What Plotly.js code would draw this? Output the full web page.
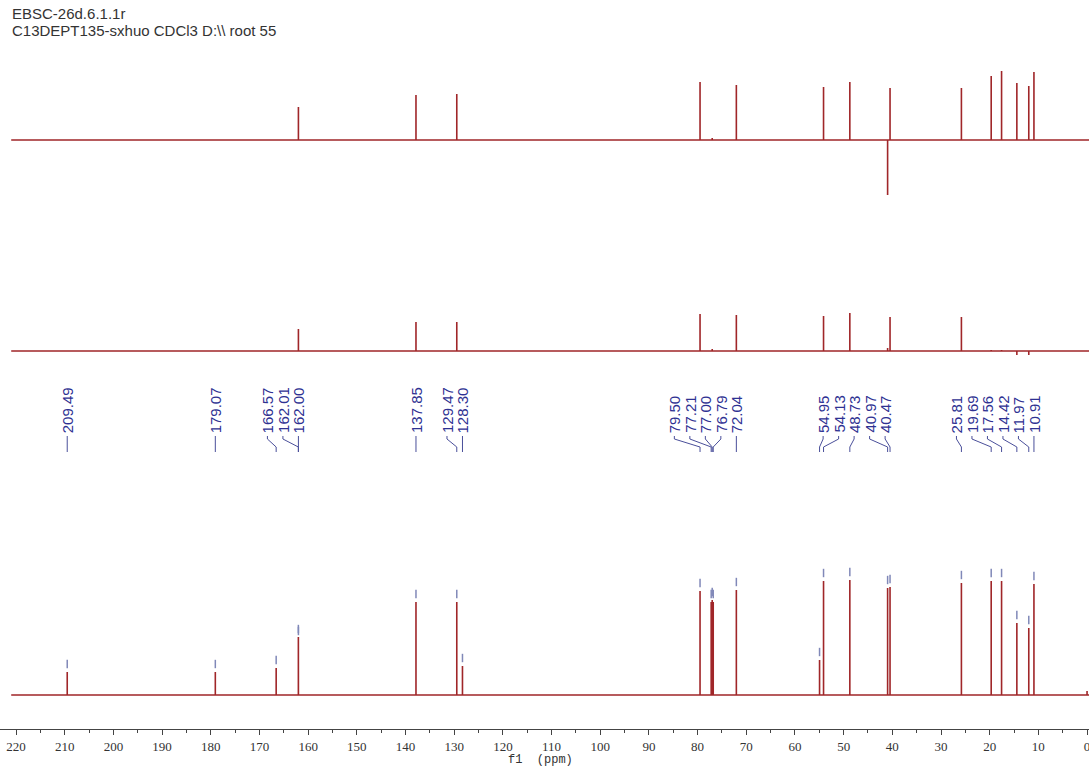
<!DOCTYPE html>
<html><head><meta charset="utf-8">
<script src="https://cdn.plot.ly/plotly-3.0.1.min.js"></script>
<style>html,body{margin:0;padding:0;background:#fff}#chart{width:1089px;height:767px}</style>
</head><body><div id="chart"></div>
<script>
// ---------- data ----------
const titleLines = ["EBSC-26d.6.1.1r", "C13DEPT135-sxhuo CDCl3 D:\\\\ root 55"];
const axisTitle = "f1  (ppm)";

// 13C spectrum (bottom)
const c13Shifts  = [209.49,179.07,166.57,162.01,162.00,137.85,129.47,128.30,79.50,77.21,77.00,76.79,72.04,54.95,54.13,48.73,40.97,40.47,25.81,19.69,17.56,14.42,11.97,10.91];
const c13Heights = [23,23,27,58,56,93,93,29,104,93,95,93,105,35,114,115,107,108,112,114,114,72,67,111];
// unlabelled small signal (TMS)
const c13ExtraShifts  = [0.00];
const c13ExtraHeights = [4];

// DEPT-135 (top)
const dept135Shifts  = [162.00,137.85,129.47,79.50,77.00,72.04,54.13,48.73,40.97,40.47,25.81,19.69,17.56,14.42,11.97,10.91];
const dept135Heights = [33,45,46,58,2,55,53,58,-55,52,52,64,69,57,54,68];

// DEPT-90 (middle)
const dept90Shifts  = [162.00,137.85,129.47,79.50,77.00,72.04,54.13,48.73,40.97,40.47,25.81,19.69,17.56,14.42,11.97];
const dept90Heights = [22,29,29,37,2,36,35,38,3,34,34,1,1,-4,-4];

// peak label groups (multiplet groupings)
const labelGroups = [[209.49],[179.07],[166.57,162.01,162.00],[137.85],[129.47,128.30],
  [79.50,77.21,77.00,76.79,72.04],[54.95,54.13,48.73,40.97,40.47],[25.81,19.69,17.56,14.42,11.97,10.91]];

// ---------- construction ----------
const X_RANGE = [223.3, -0.4];
const SPEC_START = 221.0, SPEC_END = -0.5;
const W = 1089, PLOT_H = 729;
const pxPerPpm = W / (X_RANGE[0] - X_RANGE[1]);
const labelSpacing = 15.5 / pxPerPpm;
const paperY = py => (PLOT_H - py) / PLOT_H;

function sticks(shifts, heights) {
  const idx = shifts.map((s, i) => i).sort((a, b) => shifts[b] - shifts[a]);
  const xs = [SPEC_START], ys = [0];
  idx.forEach(i => { xs.push(shifts[i], shifts[i], shifts[i]); ys.push(0, heights[i], 0); });
  xs.push(SPEC_END); ys.push(0);
  return {xs, ys};
}

const lineColor = '#a02629';
const c13 = sticks(c13Shifts.concat(c13ExtraShifts), c13Heights.concat(c13ExtraHeights));
const d135 = sticks(dept135Shifts, dept135Heights);
const d90 = sticks(dept90Shifts, dept90Heights);

const traces = [
  {x: c13.xs, y: c13.ys, xaxis: 'x', yaxis: 'y', mode: 'lines', line: {color: lineColor, width: 1.6}, hoverinfo: 'skip'},
  {x: d90.xs, y: d90.ys, xaxis: 'x', yaxis: 'y2', mode: 'lines', line: {color: lineColor, width: 1.6}, hoverinfo: 'skip'},
  {x: d135.xs, y: d135.ys, xaxis: 'x', yaxis: 'y3', mode: 'lines', line: {color: lineColor, width: 1.6}, hoverinfo: 'skip'},
  {x: c13Shifts, y: c13Heights.map(h => h + 8), xaxis: 'x', yaxis: 'y', mode: 'markers',
   marker: {symbol: 'line-ns-open', size: 6, color: '#8088b8', line: {color: '#8088b8', width: 1.5}}, hoverinfo: 'skip'}
];

// labels
const annotations = [];
const shapes = [];
const labelColor = '#2e3192';
labelGroups.forEach(g => {
  const n = g.length;
  const mean = g.reduce((a, b) => a + b, 0) / n;
  let pos = g.map((p, i) => mean + ((n - 1) / 2 - i) * labelSpacing);
  const minPeak = Math.min(...g);
  if (pos[n - 1] < minPeak) { const d = minPeak - pos[n - 1]; pos = pos.map(p => p + d); }
  g.forEach((p, i) => {
    annotations.push({
      x: pos[i], xref: 'x', y: paperY(434), yref: 'paper',
      text: p.toFixed(2), showarrow: false, textangle: -90,
      xanchor: 'center', yanchor: 'bottom', borderpad: 0,
      font: {family: 'Liberation Sans, Arial, sans-serif', size: 15, color: labelColor}
    });
    shapes.push({
      type: 'path', xref: 'x', yref: 'paper',
      path: `M ${pos[i]},${paperY(436)} L ${pos[i]},${paperY(439)} L ${p},${paperY(447)} L ${p},${paperY(452)}`,
      line: {color: '#4a4f9a', width: 1}
    });
  });
});

annotations.push(
  {x: 10 / W, xref: 'paper', y: paperY(14), yref: 'paper', text: titleLines[0], showarrow: false,
   xanchor: 'left', yanchor: 'middle', font: {family: 'Liberation Sans, Arial, sans-serif', size: 15, color: '#333'}},
  {x: 10 / W, xref: 'paper', y: paperY(31), yref: 'paper', text: titleLines[1], showarrow: false,
   xanchor: 'left', yanchor: 'middle', font: {family: 'Liberation Sans, Arial, sans-serif', size: 15, color: '#333'}},
  {x: 0.496, xref: 'paper', y: paperY(760), yref: 'paper', text: axisTitle, showarrow: false,
   xanchor: 'center', yanchor: 'middle', font: {family: 'Liberation Mono, monospace', size: 12, color: '#333'}}
);

const hiddenY = {visible: false, showgrid: false, zeroline: false, fixedrange: true};
const layout = {
  width: 1089, height: 767,
  margin: {l: 0, r: 0, t: 0, b: 38},
  paper_bgcolor: '#fff', plot_bgcolor: '#fff',
  showlegend: false, hovermode: false,
  xaxis: {
    range: X_RANGE, anchor: 'y', showgrid: false, zeroline: false,
    showline: true, linecolor: '#444', linewidth: 1,
    ticks: 'outside', ticklen: 5, tickcolor: '#444', tick0: 0, dtick: 10,
    ticklabeloverflow: 'allow',
    tickfont: {family: 'Liberation Serif, Times New Roman, serif', size: 13, color: '#333'},
    minor: {dtick: 5, ticks: 'outside', ticklen: 3, tickcolor: '#444', showgrid: false}
  },
  yaxis:  Object.assign({domain: [0, paperY(560)], range: [-34, 135], anchor: 'x'}, hiddenY),
  yaxis2: Object.assign({domain: [paperY(400), paperY(300)], range: [-49, 51], anchor: 'x'}, hiddenY),
  yaxis3: Object.assign({domain: [paperY(210), paperY(60)], range: [-70, 80], anchor: 'x'}, hiddenY),
  annotations, shapes
};

Plotly.newPlot('chart', traces, layout, {displayModeBar: false, staticPlot: true});
</script></body></html>
